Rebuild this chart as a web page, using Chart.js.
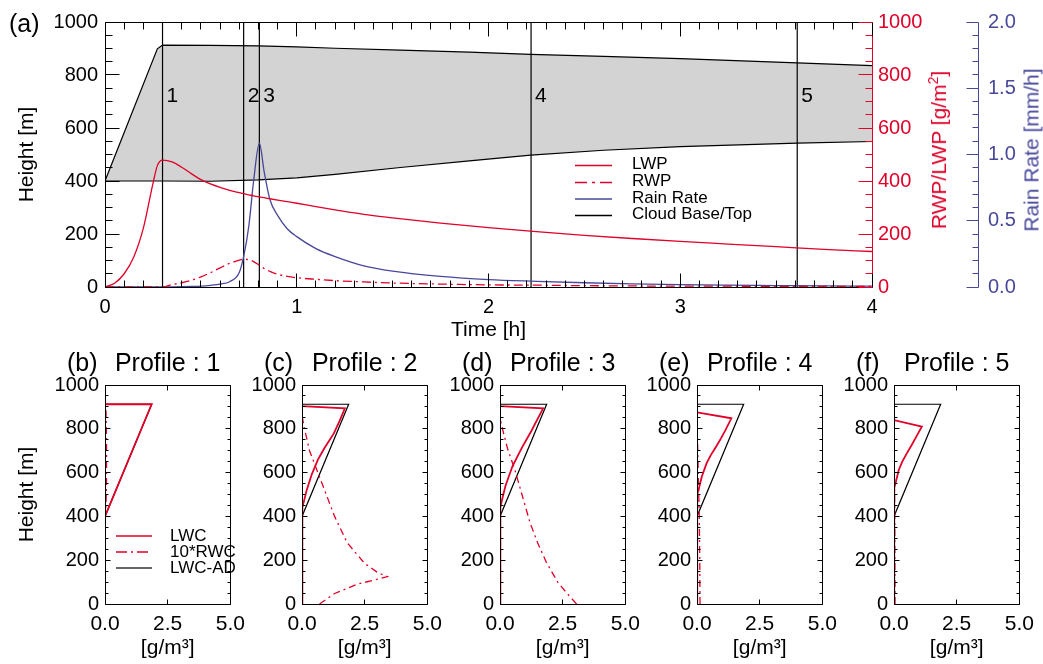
<!DOCTYPE html>
<html><head><meta charset="utf-8"><title>Cloud evolution</title>
<script src="https://cdn.jsdelivr.net/npm/chart.js@4.4.1/dist/chart.umd.min.js"></script>
<style>
html,body{margin:0;padding:0;background:#fff;}
body{position:relative;width:1043px;height:664px;overflow:hidden;font-family:"Liberation Sans",Arial,Helvetica,sans-serif;}
canvas{position:absolute;}
.txt{position:absolute;white-space:nowrap;color:#000;}
.rot{position:absolute;white-space:nowrap;transform:translate(-50%,-50%) rotate(-90deg);}
</style></head><body>
<script>
// ================= DATA =================
// (a) time series
const timeCloud = [0, 0.273, 0.3, 0.55, 0.8, 1.0, 1.2, 1.54, 1.9, 2.22, 2.6, 3.0, 3.61, 4.0];
const cloudTop  = [400, 899, 913, 912, 910, 906, 901, 894, 886, 878, 870, 862, 846, 835];
const cloudBase = [400, 400, 400, 399, 404, 412, 425, 451, 476, 498, 516, 530, 543, 549];

const timeSeries = [0, 0.05, 0.1, 0.15, 0.2, 0.25, 0.273, 0.3, 0.35, 0.4, 0.45, 0.5, 0.55, 0.6, 0.65, 0.7, 0.723, 0.75, 0.775, 0.805, 0.83, 0.86, 0.9, 0.95, 1.0, 1.1, 1.2, 1.35, 1.5, 1.75, 2.0, 2.25, 2.5, 2.75, 3.0, 3.25, 3.5, 3.75, 4.0];
const lwp = [0, 14, 50, 113, 222, 390, 458, 479, 472, 452, 428, 405, 389, 376, 365, 356, 352, 348, 344, 340, 337, 333, 328, 322, 316, 303, 291, 274, 261, 241, 224, 209, 195, 183, 172, 162, 152, 142, 134];
const rwp = [0, 0, 0, 0, 0, 0, 0, 0, 9, 16, 25, 38, 54, 72, 89, 101, 105, 103, 96, 82, 70, 59, 48, 40, 35, 29, 24, 19, 15, 11, 8, 7, 5, 4, 3, 3, 2, 2, 2];
const rainRate = [0, 0, 0, 0, 0, 0, 0, 0, 0.001, 0.002, 0.004, 0.007, 0.013, 0.022, 0.04, 0.11, 0.23, 0.46, 0.80, 1.085, 0.87, 0.66, 0.54, 0.44, 0.38, 0.29, 0.23, 0.16, 0.12, 0.08, 0.056, 0.043, 0.032, 0.024, 0.018, 0.014, 0.011, 0.008, 0.006];

const profileTimes = [0.30, 0.723, 0.805, 2.222, 3.61];
const profileNames = ['1', '2', '3', '4', '5'];
const heightRange = [0, 1000];
const timeTicks = [0, 4];
const rainRange = [0, 2];

// (b)-(f) profiles (value in g/m3, height in m)
const adValue  = [0, 0, 1.86, 0, 0];
const adHeight = [0, 400, 912, 912, 1000];

const lwc1Value  = [0, 0, 1.86, 0, 0];
const lwc1Height = [0, 400, 912, 912, 1000];
const rwc1Value  = [0, 0, 0.04, 0.06, 0.06, 0.04, 0];
const rwc1Height = [0, 400, 450, 550, 750, 880, 905];

const lwc2Value  = [0, 0, 0.03, 0.1, 0.19, 0.38, 0.63, 0.89, 1.27, 1.5, 1.71, 0, 0];
const lwc2Height = [0, 400, 440, 480, 521, 589, 658, 711, 779, 836, 893, 904, 1000];
const rwc2Value  = [0.7, 1.3, 2.2, 3.4, 3.0, 2.5, 1.8, 1.3, 0.9, 0.6, 0.3, 0.1, 0];
const rwc2Height = [0, 48, 90, 125, 145, 185, 280, 400, 520, 610, 700, 800, 860];

const lwc3Value  = [0, 0, 0.03, 0.1, 0.22, 0.5, 0.88, 1.25, 1.5, 1.72, 0, 0];
const lwc3Height = [0, 400, 440, 485, 540, 630, 715, 790, 845, 893, 904, 1000];
const rwc3Value  = [3.05, 2.7, 2.3, 1.85, 1.5, 1.2, 0.95, 0.6, 0.3, 0.12, 0];
const rwc3Height = [0, 45, 100, 190, 280, 370, 470, 610, 710, 790, 850];

const lwc4Value  = [0, 0, 0.02, 0.06, 0.19, 0.38, 0.55, 0.76, 0.95, 1.14, 1.37, 0, 0];
const lwc4Height = [0, 475, 500, 520, 581, 642, 680, 718, 755, 795, 848, 875, 1000];
const rwc4Value  = [0.12, 0.11, 0.09, 0.07, 0.05, 0.03, 0.01, 0];
const rwc4Height = [0, 200, 400, 500, 600, 700, 800, 860];

const lwc5Value  = [0, 0, 0.02, 0.06, 0.19, 0.33, 0.51, 0.7, 0.89, 1.11, 0, 0];
const lwc5Height = [0, 505, 530, 551, 612, 650, 688, 725, 764, 810, 840, 1000];
const rwc5Value  = [0.04, 0.035, 0.03, 0.02, 0.01, 0];
const rwc5Height = [0, 200, 400, 550, 680, 760];

const profileTitles = ['Profile : 1', 'Profile : 2', 'Profile : 3', 'Profile : 4', 'Profile : 5'];
const panelLetters = ['(b)', '(c)', '(d)', '(e)', '(f)'];
const topLegendLabels = ['LWP', 'RWP', 'Rain Rate', 'Cloud Base/Top'];
const profLegendLabels = ['LWC', '10*RWC', 'LWC-AD'];

// ================= STYLE / HELPERS =================
const RED = 'rgb(224,0,40)';
const BLUE = 'rgb(72,72,155)';
const FONT = '"Liberation Sans", Arial, Helvetica, sans-serif';
Chart.defaults.font.family = FONT;
Chart.defaults.color = '#000';
Chart.defaults.elements.point.radius = 0;
Chart.defaults.elements.line.tension = 0;

const pts = (xs, ys) => xs.map((x, i) => ({x: x, y: ys[i]}));
const px = v => Math.floor(v) + 0.5;

function makeCanvas(left, top, w, h) {
  const c = document.createElement('canvas');
  c.width = w; c.height = h;
  c.style.left = left + 'px'; c.style.top = top + 'px';
  c.style.width = w + 'px'; c.style.height = h + 'px';
  document.body.appendChild(c);
  return c;
}

function framePlugin(specs, frame) {
  return {
    id: 'idlFrame',
    afterDatasetsDraw(chart) {
      const ctx = chart.ctx, a = chart.chartArea;
      const seg = (x1, y1, x2, y2, c) => { ctx.strokeStyle = c; ctx.beginPath(); ctx.moveTo(x1, y1); ctx.lineTo(x2, y2); ctx.stroke(); };
      ctx.save();
      ctx.lineWidth = 1;
      const L = px(a.left), R = px(a.right), T = px(a.top), B = px(a.bottom);
      seg(L, T, R, T, frame.top);
      seg(L, B, R, B, frame.bottom);
      seg(L, T, L, B, frame.left);
      seg(R, T, R, B, frame.right);
      specs.forEach(s => {
        const sc = chart.scales[s.scale];
        const n = Math.round((s.max - s.min) / s.minor);
        for (let i = 0; i <= n; i++) {
          const v = s.min + i * s.minor;
          const r = v / s.major;
          const len = Math.abs(r - Math.round(r)) < 1e-6 ? s.majorLen : s.minorLen;
          const p = px(sc.getPixelForValue(v));
          s.pos.forEach(pos => {
            if (pos === 'bottom') seg(p, B, p, B - len, s.color);
            else if (pos === 'top') seg(p, T, p, T + len, s.color);
            else if (pos === 'left') seg(L, p, L + len, p, s.color);
            else if (pos === 'right') seg(R, p, R - len, p, s.color);
            else if (pos === 'axis') seg(px(sc.left), p, px(sc.left) - len, p, s.color);
          });
        }
        if (s.axisLine) seg(px(sc.left), T, px(sc.left), B, s.color);
      });
      ctx.restore();
    }
  };
}

function addText(html, left, top, size, color, cls) {
  const d = document.createElement('div');
  d.className = cls || 'txt';
  d.style.left = left + 'px'; d.style.top = top + 'px';
  d.style.fontSize = size + 'px';
  d.style.lineHeight = size + 'px';
  d.style.color = color || '#000';
  d.innerHTML = html;
  document.body.appendChild(d);
  return d;
}

function addLegend(lineX, lineW, textX, centers, lineOffsets, items, fontSize) {
  items.forEach((it, i) => {
    const d = document.createElement('div');
    d.style.cssText = 'position:absolute;left:' + lineX + 'px;top:' + (centers[i] - 10) + 'px;height:20px;width:' + (textX - lineX + 160) + 'px;';
    const ly = 10 + lineOffsets[i];
    d.innerHTML = '<svg width="' + lineW + '" height="20" style="position:absolute;left:0;top:0;overflow:visible">' +
      '<line x1="0" y1="' + ly + '" x2="' + lineW + '" y2="' + ly + '" stroke="' + it.color + '" stroke-width="' + it.w + '"' +
      (it.dash ? ' stroke-dasharray="' + it.dash + '"' : '') + '/></svg>' +
      '<span style="position:absolute;left:' + (textX - lineX) + 'px;top:0;font-size:' + fontSize + 'px;line-height:20px;color:#000;white-space:nowrap">' + it.label + '</span>';
    document.body.appendChild(d);
  });
}

// ================= (a) TOP CHART =================
const PROFILE_LABEL_HEIGHT = 720;
const labelPlugin = {
  id: 'profLabels',
  afterDatasetsDraw(chart) {
    const ctx = chart.ctx, xs = chart.scales.x, ys = chart.scales.y;
    ctx.save();
    ctx.font = '21px ' + FONT;
    ctx.fillStyle = '#000';
    ctx.textBaseline = 'middle';
    ctx.textAlign = 'left';
    profileTimes.forEach((t, i) => ctx.fillText(profileNames[i], xs.getPixelForValue(t) + 4, ys.getPixelForValue(PROFILE_LABEL_HEIGHT)));
    ctx.restore();
  }
};

const topCanvas = makeCanvas(0, 0, 1043, 345);
const topDatasets = [
  {label: 'LWP', data: pts(timeSeries, lwp), yAxisID: 'y2', borderColor: RED, borderWidth: 1.3, cubicInterpolationMode: 'monotone'},
  {label: 'RWP', data: pts(timeSeries, rwp), yAxisID: 'y2', borderColor: RED, borderWidth: 1.3, borderDash: [9, 4, 2, 4], cubicInterpolationMode: 'monotone'},
  {label: 'Rain Rate', data: pts(timeSeries, rainRate), yAxisID: 'y3', borderColor: BLUE, borderWidth: 1.3, cubicInterpolationMode: 'monotone'}
];
profileTimes.forEach(t => topDatasets.push({label: 'Profile', data: [{x: t, y: heightRange[0]}, {x: t, y: heightRange[1]}], yAxisID: 'y', borderColor: '#000', borderWidth: 1.2}));
topDatasets.push({label: 'Cloud Top', data: pts(timeCloud, cloudTop), yAxisID: 'y', borderColor: '#000', borderWidth: 1.2, fill: '+1', backgroundColor: '#d3d3d3'});
topDatasets.push({label: 'Cloud Base', data: pts(timeCloud, cloudBase), yAxisID: 'y', borderColor: '#000', borderWidth: 1.2});

new Chart(topCanvas, {
  type: 'line',
  data: {datasets: topDatasets},
  options: {
    responsive: false, animation: false, devicePixelRatio: 1, events: [],
    layout: {padding: {left: 11, top: 13, right: 0, bottom: 0}},
    plugins: {legend: {display: false}, tooltip: {enabled: false}, filler: {drawTime: 'beforeDatasetsDraw'}},
    scales: {
      x: {type: 'linear', min: timeTicks[0], max: timeTicks[1],
          grid: {display: false, drawTicks: false}, border: {display: false},
          ticks: {stepSize: 1, font: {size: 20}, color: '#000', padding: 8, maxRotation: 0, autoSkip: false, callback: v => String(v)},
          title: {display: true, text: 'Time [h]', font: {size: 21}, color: '#000', padding: {top: 0, bottom: 2}},
          afterFit(s) { s.height = 58; }},
      y: {type: 'linear', position: 'left', min: heightRange[0], max: heightRange[1],
          grid: {display: false, drawTicks: false}, border: {display: false},
          ticks: {stepSize: 200, font: {size: 20}, color: '#000', padding: 7, callback: v => String(v)},
          title: {display: true, text: 'Height [m]', font: {size: 21}, color: '#000', padding: {top: 4, bottom: 0}},
          afterFit(s) { s.width = 94; }},
      y2: {type: 'linear', position: 'right', min: heightRange[0], max: heightRange[1],
          grid: {display: false, drawTicks: false}, border: {display: false},
          ticks: {stepSize: 200, font: {size: 20}, color: RED, padding: 6, callback: v => String(v)},
          afterFit(s) { s.width = 106; }},
      y3: {type: 'linear', position: 'right', min: rainRange[0], max: rainRange[1],
          grid: {display: false, drawTicks: false}, border: {display: false},
          ticks: {stepSize: 0.5, font: {size: 20}, color: BLUE, padding: 10, callback: v => Number(v).toFixed(1)},
          afterFit(s) { s.width = 65; }}
    }
  },
  plugins: [
    framePlugin([
      {scale: 'x', min: 0, max: 4, major: 1, minor: 0.1, majorLen: 14, minorLen: 7, pos: ['bottom', 'top'], color: '#000'},
      {scale: 'y', min: 0, max: 1000, major: 200, minor: 50, majorLen: 14, minorLen: 7, pos: ['left'], color: '#000'},
      {scale: 'y2', min: 0, max: 1000, major: 200, minor: 50, majorLen: 14, minorLen: 7, pos: ['right'], color: RED},
      {scale: 'y3', min: 0, max: 2, major: 0.5, minor: 0.1, majorLen: 12, minorLen: 6, pos: ['axis'], color: BLUE, axisLine: true}
    ], {top: '#000', bottom: '#000', left: '#000', right: RED}),
    labelPlugin
  ]
});

addText('(a)', 9, 11, 25);
addText('RWP/LWP [g/m<span style="font-size:14px;position:relative;top:-8px">2</span>]', 940, 150, 21, RED, 'rot');
addText('Rain Rate [mm/h]', 1031, 150, 21, BLUE, 'rot');
addLegend(575, 37, 632, [164, 181, 198, 214], [1.5, 1.5, 1, 1.5], [
  {label: topLegendLabels[0], color: RED, w: 1.3},
  {label: topLegendLabels[1], color: RED, w: 1.3, dash: '12,5,3,5'},
  {label: topLegendLabels[2], color: BLUE, w: 1.3},
  {label: topLegendLabels[3], color: '#000', w: 1.3}
], 17);

// ================= (b)-(f) PROFILES =================
const profiles = [
  {lwcV: lwc1Value, lwcH: lwc1Height, rwcV: rwc1Value, rwcH: rwc1Height},
  {lwcV: lwc2Value, lwcH: lwc2Height, rwcV: rwc2Value, rwcH: rwc2Height},
  {lwcV: lwc3Value, lwcH: lwc3Height, rwcV: rwc3Value, rwcH: rwc3Height},
  {lwcV: lwc4Value, lwcH: lwc4Height, rwcV: rwc4Value, rwcH: rwc4Height},
  {lwcV: lwc5Value, lwcH: lwc5Height, rwcV: rwc5Value, rwcH: rwc5Height}
];
const panelLefts = [105, 302, 500, 697, 894];
const PANEL_W = 132;

profiles.forEach((p, i) => {
  const padL = i === 0 ? 11 : 0;
  const axisW = i === 0 ? 94 : 66;
  const cLeft = panelLefts[i] - padL - axisW;
  const cW = padL + axisW + PANEL_W + 16;
  const cv = makeCanvas(cLeft, 340, cW, 324);
  new Chart(cv, {
    type: 'line',
    data: {datasets: [
      {label: 'LWC', data: pts(p.lwcV, p.lwcH), borderColor: RED, borderWidth: 1.8},
      {label: '10*RWC', data: pts(p.rwcV, p.rwcH), borderColor: RED, borderWidth: 1.3, borderDash: [7, 4, 2, 4]},
      {label: 'LWC-AD', data: pts(adValue, adHeight), borderColor: '#000', borderWidth: 1.2}
    ]},
    options: {
      responsive: false, animation: false, devicePixelRatio: 1, events: [],
      layout: {padding: {left: padL, right: 16, top: 0, bottom: 3}},
      plugins: {
        legend: {display: false}, tooltip: {enabled: false},
        title: {display: true, text: profileTitles[i], fullSize: false, font: {size: 25, weight: 'normal'}, color: '#000', padding: {top: 9, bottom: 6}}
      },
      scales: {
        x: {type: 'linear', min: 0, max: 5,
            grid: {display: false, drawTicks: false}, border: {display: false},
            ticks: {stepSize: 2.5, font: {size: 21}, color: '#000', padding: 8, maxRotation: 0, autoSkip: false, callback: v => Number(v).toFixed(1)},
            title: {display: true, text: '[g/m³]', font: {size: 21}, color: '#000', padding: {top: 0, bottom: 0}},
            afterFit(s) { s.height = 57; }},
        y: {type: 'linear', position: 'left', min: heightRange[0], max: heightRange[1],
            grid: {display: false, drawTicks: false}, border: {display: false},
            ticks: {stepSize: 200, font: {size: 20}, color: '#000', padding: 6, callback: v => String(v)},
            title: {display: i === 0, text: 'Height [m]', font: {size: 21}, color: '#000', padding: {top: 4, bottom: 0}},
            afterFit(s) { s.width = axisW; }}
      }
    },
    plugins: [framePlugin([
      {scale: 'x', min: 0, max: 5, major: 2.5, minor: 2.5, majorLen: 5, minorLen: 5, pos: ['bottom', 'top'], color: '#000'},
      {scale: 'y', min: 0, max: 1000, major: 200, minor: 50, majorLen: 5, minorLen: 3, pos: ['left', 'right'], color: '#000'}
    ], {top: '#000', bottom: '#000', left: '#000', right: '#000'})]
  });
  addText(panelLetters[i], panelLefts[i] - 38, 350, 25);
});

addLegend(116, 36, 170, [536, 552, 568], [0, 0, 0], [
  {label: profLegendLabels[0], color: RED, w: 1.6},
  {label: profLegendLabels[1], color: RED, w: 1.3, dash: '11,4,2,4'},
  {label: profLegendLabels[2], color: '#333', w: 1.5}
], 17);
</script>
</body></html>
